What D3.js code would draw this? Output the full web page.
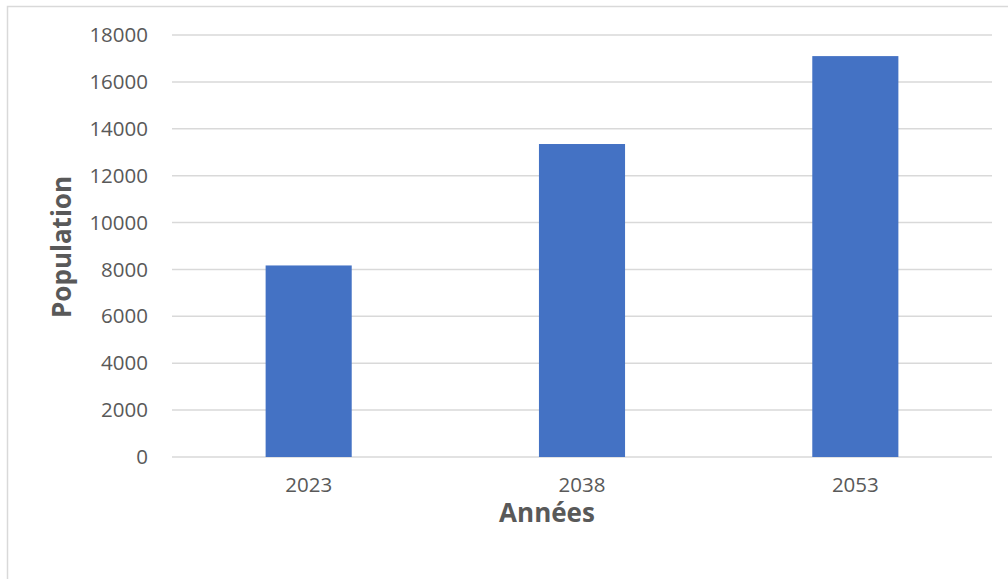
<!DOCTYPE html>
<html>
<head>
<meta charset="utf-8">
<script src="https://cdn.jsdelivr.net/npm/d3@7"></script>
<style>
  html, body { margin: 0; padding: 0; background: #fff; }
  svg { display: block; }
  text { font-family: "Open Sans", "Noto Sans", sans-serif; fill: #595959; }
</style>
</head>
<body>
<svg id="chart" width="1008" height="579"></svg>
<script>
// Population projections by year
const years = ["2023", "2038", "2053"];
const population = [8170, 13350, 17100];
const yTicks = [0, 2000, 4000, 6000, 8000, 10000, 12000, 14000, 16000, 18000];

const svg = d3.select("#chart");
const W = 1008, H = 579;
const margin = { left: 172, right: 16, top: 35, bottom: 122 };
const plotW = W - margin.left - margin.right;
const plotH = H - margin.top - margin.bottom;

// chart frame
svg.append("rect")
  .attr("x", 7.5).attr("y", 6.5)
  .attr("width", W + 20).attr("height", H + 20)
  .attr("fill", "none").attr("stroke", "#d9d9d9").attr("stroke-width", 1.5);

const g = svg.append("g").attr("transform", `translate(${margin.left},${margin.top})`);

const x = d3.scaleBand().domain(years).range([0, plotW]).paddingInner(0.685).paddingOuter(0.3425);
const y = d3.scaleLinear().domain([0, 18000]).range([plotH, 0]);

// gridlines
g.selectAll("line.grid").data(yTicks).join("line")
  .attr("class", "grid")
  .attr("x1", 0).attr("x2", plotW)
  .attr("y1", d => y(d)).attr("y2", d => y(d))
  .attr("stroke", "#d9d9d9").attr("stroke-width", 1.5);

// y axis labels
const yAxis = d3.axisLeft(y).tickValues(yTicks).tickSize(0).tickPadding(24).tickFormat(d3.format("d"));
const ya = g.append("g").call(yAxis);
ya.select(".domain").remove();
ya.selectAll("text").attr("font-size", 20.5).attr("fill", "#595959")
  .style("font-family", "\"Open Sans\", sans-serif");

// bars
g.selectAll("rect.bar").data(population).join("rect")
  .attr("class", "bar")
  .attr("x", (d, i) => x(years[i]))
  .attr("width", x.bandwidth())
  .attr("y", d => y(d))
  .attr("height", d => plotH - y(d))
  .attr("fill", "#4472c4");

// x axis labels
const xAxis = d3.axisBottom(x).tickSize(0).tickPadding(20);
const xa = g.append("g").attr("transform", `translate(0,${plotH})`).call(xAxis);
xa.select(".domain").remove();
xa.selectAll("text").attr("font-size", 20.5).attr("fill", "#595959")
  .style("font-family", "\"Open Sans\", sans-serif");

// axis titles
svg.append("text")
  .attr("x", 547).attr("y", 522)
  .attr("text-anchor", "middle")
  .attr("font-size", 26).attr("font-weight", "bold")
  .text("Années");

svg.append("text")
  .attr("transform", "translate(71,247) rotate(-90)")
  .attr("text-anchor", "middle")
  .attr("font-size", 26).attr("font-weight", "bold")
  .text("Population");
</script>
</body>
</html>
